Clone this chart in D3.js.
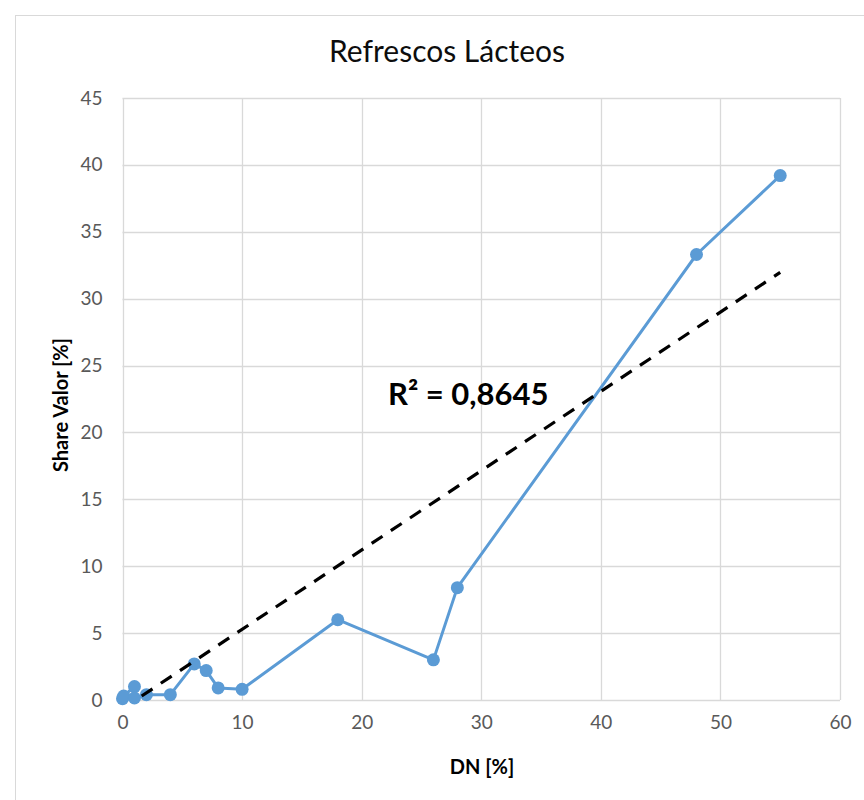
<!DOCTYPE html>
<html><head><meta charset="utf-8">
<script src="https://cdn.jsdelivr.net/npm/d3@7"></script>
<style>
html,body{margin:0;padding:0;background:#fff;}
svg{display:block;font-family:Lato,"Open Sans",sans-serif;}
</style></head>
<body>
<svg id="chart" width="864" height="800"></svg>
<script>
// Data
const dnValues    = [0, 0.1, 1, 1, 2, 4, 6, 7, 8, 10, 18, 26, 28, 48, 55];
const shareValues = [0.1, 0.3, 1.0, 0.15, 0.4, 0.4, 2.7, 2.2, 0.9, 0.8, 6.0, 3.0, 8.4, 33.3, 39.2];
const xTicks = [0, 10, 20, 30, 40, 50, 60];
const yTicks = [0, 5, 10, 15, 20, 25, 30, 35, 40, 45];
const trendX = [0, 55];
const trendSlope = 0.593;
const trendIntercept = -0.65;
const rSquaredLabel = "R² = 0,8645";
const titleText = "Refrescos Lácteos";
const xTitle = "DN [%]";
const yTitle = "Share Valor [%]";

const svg = d3.select("#chart");
const plot = {left: 122.5, right: 840, top: 98, bottom: 700};

const x = d3.scaleLinear().domain([0, 60]).range([plot.left, plot.right]);
const y = d3.scaleLinear().domain([0, 45]).range([plot.bottom, plot.top]);

// outer chart frame
svg.append("rect").attr("x", 15.5).attr("y", 15.5).attr("width", 900).attr("height", 900)
  .attr("fill", "#fff").attr("stroke", "#d9d9d9").attr("stroke-width", 1);

// title
svg.append("text").attr("x", 447).attr("y", 62).attr("text-anchor", "middle")
  .attr("font-size", 30).attr("fill", "#0d0d0d").text(titleText);

// gridlines
const grid = svg.append("g");
grid.selectAll("line.v").data(xTicks).join("line").attr("class", "v")
  .attr("x1", d => Math.round(x(d)) + 0.5).attr("x2", d => Math.round(x(d)) + 0.5)
  .attr("y1", plot.top).attr("y2", plot.bottom)
  .attr("stroke", "#d9d9d9").attr("stroke-width", 1.3);
grid.selectAll("line.h").data(yTicks).join("line").attr("class", "h")
  .attr("y1", d => Math.round(y(d)) + 0.5).attr("y2", d => Math.round(y(d)) + 0.5)
  .attr("x1", plot.left).attr("x2", plot.right)
  .attr("stroke", "#d9d9d9").attr("stroke-width", 1.3);

// axes (labels only)
const xAxis = d3.axisBottom(x).tickValues(xTicks).tickSize(0).tickPadding(16).tickFormat(d3.format("d"));
const gx = svg.append("g").attr("transform", `translate(0,${plot.bottom})`).call(xAxis);
gx.select(".domain").remove();
gx.selectAll("text").attr("font-size", 19).attr("fill", "#595959").attr("font-family", "Lato,'Open Sans',sans-serif");

const yAxis = d3.axisLeft(y).tickValues(yTicks).tickSize(0).tickPadding(20).tickFormat(d3.format("d"));
const gy = svg.append("g").attr("transform", `translate(${plot.left},0)`).call(yAxis);
gy.select(".domain").remove();
gy.selectAll("text").attr("font-size", 19).attr("fill", "#595959").attr("font-family", "Lato,'Open Sans',sans-serif");

// axis titles
svg.append("text").attr("x", 482).attr("y", 774).attr("text-anchor", "middle")
  .attr("font-size", 20).attr("font-weight", "bold").attr("fill", "#000").text(xTitle);
svg.append("text").attr("transform", "translate(68,405) rotate(-90)").attr("text-anchor", "middle")
  .attr("font-size", 20).attr("font-weight", "bold").attr("fill", "#000").text(yTitle);

// clip for trendline
svg.append("clipPath").attr("id", "plotclip").append("rect")
  .attr("x", plot.left).attr("y", plot.top).attr("width", plot.right - plot.left).attr("height", plot.bottom - plot.top);

// series
const pts = dnValues.map((d, i) => ({x: d, y: shareValues[i]}));
const line = d3.line().x(d => x(d.x)).y(d => y(d.y));
svg.append("path").datum(pts).attr("d", line).attr("fill", "none")
  .attr("stroke", "#5b9bd5").attr("stroke-width", 3).attr("stroke-linejoin", "round");
svg.selectAll("circle.pt").data(pts).join("circle").attr("class", "pt")
  .attr("cx", d => x(d.x)).attr("cy", d => y(d.y)).attr("r", 6.5)
  .attr("fill", "#5b9bd5");

// trendline
const trendPts = trendX.map(v => ({x: v, y: trendSlope * v + trendIntercept}));
svg.append("path").datum(trendPts).attr("d", line).attr("clip-path", "url(#plotclip)")
  .attr("fill", "none").attr("stroke", "#000").attr("stroke-width", 3.2)
  .attr("stroke-dasharray", "13,10");

// R² label
svg.append("text").attr("x", 388).attr("y", 405)
  .attr("font-size", 31).attr("font-weight", "bold").attr("fill", "#000").text(rSquaredLabel);
</script>
</body></html>
